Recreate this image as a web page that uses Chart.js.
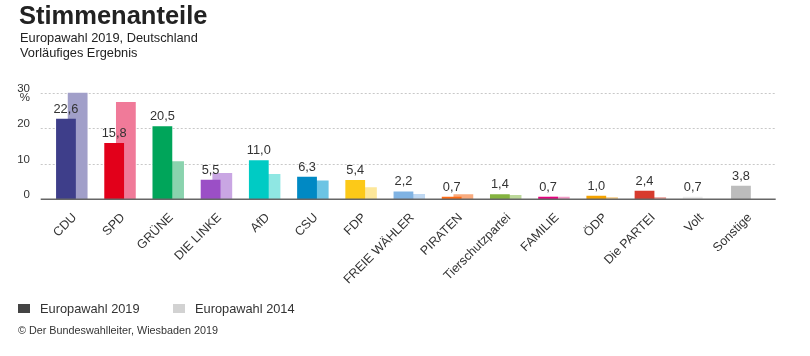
<!DOCTYPE html>
<html><head><meta charset="utf-8">
<script src="https://cdn.jsdelivr.net/npm/chart.js@4.4.1/dist/chart.umd.min.js"></script>
<style>
html,body{margin:0;padding:0;background:#fff;}
#wrap{position:relative;width:810px;height:356px;font-family:"Liberation Sans",Arial,sans-serif;color:#333;}
#c{position:absolute;left:0;top:0;}
#title{position:absolute;left:19px;top:0;font-size:25.5px;line-height:30px;font-weight:bold;color:#222;white-space:nowrap;}
#sub{position:absolute;left:20px;top:31px;font-size:12.8px;line-height:14.5px;color:#222;white-space:nowrap;}
.lg{position:absolute;font-size:12.8px;line-height:15px;white-space:nowrap;}
.lgbox{position:absolute;width:12px;height:9px;}
#src{position:absolute;left:18px;top:324px;font-size:10.8px;line-height:13px;white-space:nowrap;}
</style>
</head><body>
<div id="wrap"><canvas id="c" width="810" height="356"></canvas>
<div id="title">Stimmenanteile</div>
<div id="sub">Europawahl 2019, Deutschland<br>Vorläufiges Ergebnis</div>
<div id="legend"></div><div id="src">© Der Bundeswahlleiter, Wiesbaden 2019</div></div>
<script>
const categories = ['CDU','SPD','GRÜNE','DIE LINKE','AfD','CSU','FDP','FREIE WÄHLER','PIRATEN','Tierschutzpartei','FAMILIE','ÖDP','Die PARTEI','Volt','Sonstige'];
const values2019 = [22.6,15.8,20.5,5.5,11.0,6.3,5.4,2.2,0.7,1.4,0.7,1.0,2.4,0.7,3.8];
const values2014 = [30.0,27.3,10.7,7.4,7.1,5.3,3.4,1.5,1.4,1.2,0.7,0.6,0.6,null,null];
const yTicks = [0,10,20,30];
const seriesLabels = ['Europawahl 2019','Europawahl 2014'];
const legendColors = ['#444444','#d2d2d2'];
const colors2019 = ['#3e3e8a','#e2001a','#00a55a','#9b4fc6','#00cbc4','#0089c4','#fcc918','#80b3e3','#ff6a13','#85b440','#e6007e','#f5a300','#d73b2e','#ececec','#bcbcbc'];
const colors2014 = ['#a19fc9','#f07a99','#8ad3ae','#c9a6e3','#8fe7e3','#6cc4e4','#fde79a','#bfd8f2','#f9ab7e','#bcd89a','#f39dc8','#f6cd86','#e99a93','#ececec','#bcbcbc'];

const FONT = '"Liberation Sans", Arial, sans-serif';
const GRID_X0 = 40.7, GRID_X1 = 775.7;

const gridPlugin = {
  id: 'gridPlugin',
  beforeDatasetsDraw(chart) {
    const ctx = chart.ctx, y = chart.scales.y;
    ctx.save();
    ctx.strokeStyle = '#c8c8c8';
    ctx.lineWidth = 1;
    ctx.setLineDash([2, 2]);
    yTicks.forEach(v => {
      if (v === 0) return;
      const py = Math.round(y.getPixelForValue(v)) + 0.5;
      ctx.beginPath(); ctx.moveTo(GRID_X0, py); ctx.lineTo(GRID_X1, py); ctx.stroke();
    });
    ctx.restore();
    ctx.save();
    ctx.fillStyle = '#333';
    ctx.font = '11.5px ' + FONT;
    ctx.textAlign = 'right';
    ctx.textBaseline = 'middle';
    ctx.fillText('%', 30, y.getPixelForValue(30) + 5);
    ctx.restore();
  },
  afterDatasetsDraw(chart) {
    const ctx = chart.ctx, y = chart.scales.y;
    ctx.save();
    ctx.strokeStyle = '#666';
    ctx.lineWidth = 1.5;
    const py = y.getPixelForValue(0);
    ctx.beginPath(); ctx.moveTo(GRID_X0, py); ctx.lineTo(GRID_X1, py); ctx.stroke();
    ctx.restore();
    const meta = chart.getDatasetMeta(0);
    ctx.save();
    ctx.fillStyle = '#333';
    ctx.font = '12.8px ' + FONT;
    ctx.textAlign = 'center';
    ctx.textBaseline = 'alphabetic';
    meta.data.forEach((bar, i) => {
      const v = values2019[i];
      if (v == null) return;
      ctx.fillText(v.toFixed(1).replace('.', ','), bar.x, bar.y - 6);
    });
    ctx.restore();
  }
};

const chart = new Chart(document.getElementById('c'), {
  type: 'bar',
  data: {
    labels: categories,
    datasets: [
      { label: seriesLabels[0], data: values2019, backgroundColor: colors2019, categoryPercentage: 0.4855, barPercentage: 1.69 },
      { label: seriesLabels[1], data: values2014, backgroundColor: colors2014, categoryPercentage: 0.4855, barPercentage: 1.69 }
    ]
  },
  options: {
    responsive: false,
    animation: false,
    devicePixelRatio: 1,
    layout: { padding: { left: 0, top: 92.5, right: 39.1, bottom: 66.7 } },
    plugins: {
      legend: { display: false },
      tooltip: { enabled: false },
      title: { display: false },
      subtitle: { display: false }
    },
    scales: {
      x: {
        type: 'category', offset: true,
        grid: { display: false, drawTicks: false },
        border: { display: false },
        ticks: { autoSkip: false, minRotation: 45, maxRotation: 45, color: '#333', font: { family: FONT, size: 12.5 }, padding: 11, labelOffset: 3 },
        afterFit(s) { s.height = 90; }
      },
      y: {
        min: 0, max: 30,
        afterBuildTicks(s) { s.ticks = yTicks.map(v => ({ value: v })); },
        grid: { display: false, drawTicks: false },
        border: { display: false },
        ticks: { color: '#333', font: { family: FONT, size: 11.5 }, padding: 17.7, labelOffset: -4 },
        afterFit(s) { s.width = 47.7; }
      }
    }
  },
  plugins: [gridPlugin]
});

const lg = document.getElementById('legend');
const lgPos = [{box: 18, text: 40}, {box: 173, text: 195}];
chart.data.datasets.forEach((ds, i) => {
  const b = document.createElement('div');
  b.className = 'lgbox';
  b.style.left = lgPos[i].box + 'px'; b.style.top = '304px'; b.style.background = legendColors[i];
  const t = document.createElement('div');
  t.className = 'lg';
  t.style.left = lgPos[i].text + 'px'; t.style.top = '301px';
  t.textContent = ds.label;
  lg.appendChild(b); lg.appendChild(t);
});
</script>
</body></html>
